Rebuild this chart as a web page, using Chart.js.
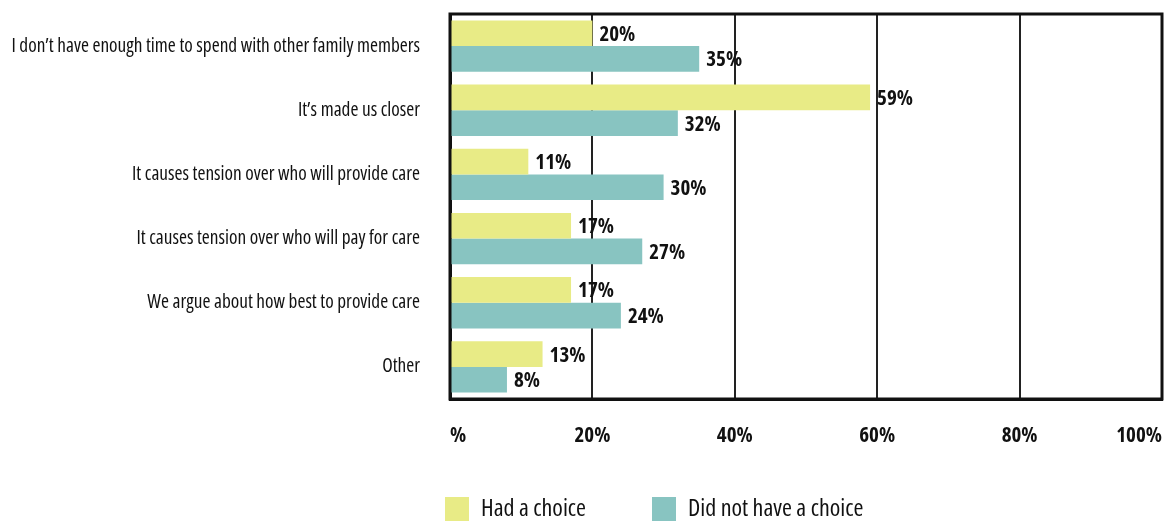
<!DOCTYPE html>
<html>
<head>
<meta charset="utf-8">
<script src="https://cdn.jsdelivr.net/npm/chart.js@4/dist/chart.umd.min.js"></script>
<style>
html,body{margin:0;padding:0;background:#fff;}
#wrap{width:1176px;height:525px;}
</style>
</head>
<body>
<div id="wrap"><canvas id="chart" width="1176" height="525"></canvas></div>
<script>
const categories = [
  "I don’t have enough time to spend with other family members",
  "It’s made us closer",
  "It causes tension over who will provide care",
  "It causes tension over who will pay for care",
  "We argue about how best to provide care",
  "Other"
];
const hadChoice = [20, 59, 11, 17, 17, 13];
const noChoice = [35, 32, 30, 27, 24, 8];
const seriesNames = ["Had a choice", "Did not have a choice"];
const tickLabels = ["%", "20%", "40%", "60%", "80%", "100%"];

const FAMILY = "'Open Sans', sans-serif";
const INK = '#111111';

const framePlugin = {
  id: 'frame',
  afterDatasetsDraw(chart) {
    const {ctx, chartArea: a} = chart;
    ctx.save();
    ctx.strokeStyle = INK;
    ctx.lineWidth = 3;
    ctx.strokeRect(a.left, a.top, a.right - a.left, a.bottom - a.top);
    ctx.restore();
  }
};

const valueLabels = {
  id: 'valueLabels',
  afterDatasetsDraw(chart) {
    const ctx = chart.ctx;
    ctx.save();
    ctx.font = "normal 700 condensed 21px " + FAMILY;
    ctx.fillStyle = INK;
    ctx.textAlign = 'left';
    ctx.textBaseline = 'middle';
    chart.data.datasets.forEach((ds, di) => {
      const meta = chart.getDatasetMeta(di);
      meta.data.forEach((bar, i) => {
        ctx.fillText(ds.data[i] + '%', bar.x + 7, bar.y + 1.5);
      });
    });
    ctx.restore();
  }
};

const legendPlace = {
  id: 'legendPlace',
  afterLayout(chart) {
    const lg = chart.legend;
    if (!lg) return;
    const pad = lg.options.labels.padding;
    lg.left = 445 - pad;
    lg.top = 497 - pad;
  }
};

new Chart(document.getElementById('chart'), {
  type: 'bar',
  data: {
    labels: categories,
    datasets: [
      { label: seriesNames[0], data: hadChoice, backgroundColor: '#E8EB86', borderWidth: 0 },
      { label: seriesNames[1], data: noChoice, backgroundColor: '#88C4C1', borderWidth: 0 }
    ]
  },
  options: {
    indexAxis: 'y',
    responsive: false,
    animation: false,
    devicePixelRatio: 1,
    categoryPercentage: 0.8,
    barPercentage: 1.0,
    layout: { padding: { left: 10, right: 14, top: 14, bottom: 0 } },
    plugins: {
      tooltip: { enabled: false },
      legend: {
        position: 'bottom',
        align: 'start',
        maxHeight: 76,
        labels: {
          boxWidth: 24,
          boxHeight: 24,
          padding: 66,
          color: INK,
          font: { family: FAMILY, size: 24, weight: 'condensed' }
        }
      }
    },
    scales: {
      x: {
        min: 0,
        max: 100,
        ticks: {
          stepSize: 20,
          align: 'inner',
          padding: 24,
          color: INK,
          font: { family: FAMILY, size: 21, weight: '700 condensed' },
          callback: (v, i) => tickLabels[i]
        },
        grid: { color: '#222222', lineWidth: 2, drawTicks: false },
        border: { display: true, color: INK, width: 3 },
        afterFit(scale) { scale.height = 50; scale.paddingLeft = 0; scale.paddingRight = 0; }
      },
      y: {
        ticks: {
          padding: 30,
          color: INK,
          font: { family: FAMILY, size: 19.3, weight: 'condensed' }
        },
        grid: { display: false, drawTicks: false },
        border: { display: true, color: INK, width: 3 },
        afterFit(scale) { scale.width = 440; scale.paddingTop = 0; scale.paddingBottom = 0; }
      }
    }
  },
  plugins: [framePlugin, valueLabels, legendPlace]
});
</script>
</body>
</html>
